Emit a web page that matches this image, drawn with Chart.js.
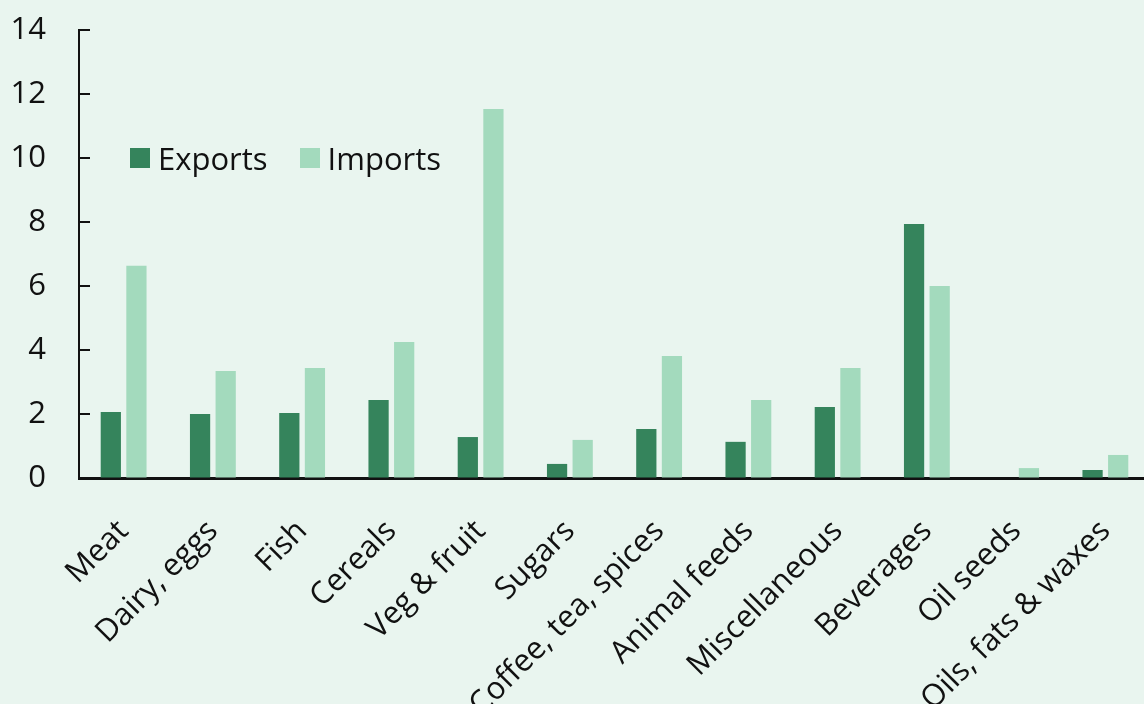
<!DOCTYPE html>
<html>
<head>
<meta charset="utf-8">
<script src="https://cdn.jsdelivr.net/npm/chart.js@4"></script>
<style>
  html, body { margin: 0; padding: 0; background: #e9f5ef; overflow: hidden; }
  #wrap { position: relative; width: 1144px; height: 704px; overflow: hidden; }
  #legend { position: absolute; left: 130px; top: 137px; font-family: 'Open Sans', sans-serif; font-size: 31px; color: #111; display: flex; align-items: center; }
  #legend span.box { display: inline-block; width: 20px; height: 20px; margin-right: 8px; }
  #legend span.item { display: flex; align-items: center; margin-right: 32px; }
</style>
</head>
<body>
<div id="wrap">
  <canvas id="foodChart" width="1150" height="704"></canvas>
  <div id="legend"></div>
</div>
<script>
const categories = ['Meat', 'Dairy, eggs', 'Fish', 'Cereals', 'Veg & fruit', 'Sugars',
  'Coffee, tea, spices', 'Animal feeds', 'Miscellaneous', 'Beverages', 'Oil seeds', 'Oils, fats & waxes'];
const exportsData = [2.06, 2.0, 2.03, 2.44, 1.28, 0.44, 1.53, 1.13, 2.22, 7.94, 0, 0.25];
const importsData = [6.63, 3.34, 3.44, 4.25, 11.53, 1.19, 3.81, 2.44, 3.44, 6.0, 0.31, 0.72];
const yTicks = [0, 2, 4, 6, 8, 10, 12, 14];

const exportColor = '#35845c';
const importColor = '#a3dabd';

// small tick marks drawn inside the plot, next to the y axis
const insideTicks = {
  id: 'insideTicks',
  afterDraw(chart) {
    const ctx = chart.ctx;
    const y = chart.scales.y;
    ctx.save();
    ctx.strokeStyle = '#111';
    ctx.lineWidth = 2;
    y.ticks.forEach((t) => {
      const py = y.getPixelForValue(t.value);
      ctx.beginPath();
      ctx.moveTo(y.right, py);
      ctx.lineTo(y.right + 11, py);
      ctx.stroke();
    });
    ctx.restore();
  },
};

var ctx = document.getElementById('foodChart').getContext('2d');
var foodChart = new Chart(ctx, {
  type: 'bar',
  data: {
    labels: categories,
    datasets: [
      {
        label: 'Exports',
        data: exportsData,
        backgroundColor: exportColor,
        barPercentage: 0.79,
        categoryPercentage: 0.574,
      },
      {
        label: 'Imports',
        data: importsData,
        backgroundColor: importColor,
        barPercentage: 0.79,
        categoryPercentage: 0.574,
      },
    ],
  },
  options: {
    responsive: false,
    animation: false,
    layout: { padding: { top: 30, right: 0, left: 0, bottom: 0 } },
    plugins: {
      legend: { display: false },
      tooltip: { enabled: false },
    },
    scales: {
      x: {
        grid: { display: false },
        border: { display: true, color: '#111', width: 3 },
        ticks: {
          color: '#111',
          font: { family: 'Open Sans', size: 31 },
          maxRotation: 45,
          minRotation: 45,
          autoSkip: false,
          padding: 27,
        },
        afterFit(scale) {
          scale.height = 226;
          scale.paddingLeft = 0;
          scale.paddingRight = 0;
        },
      },
      y: {
        min: 0,
        max: 14,
        afterBuildTicks(scale) { scale.ticks = yTicks.map((v) => ({ value: v })); },
        grid: { display: true, drawOnChartArea: false, drawTicks: false },
        border: { display: true, color: '#111', width: 2 },
        ticks: {
          color: '#111',
          font: { family: 'Open Sans', size: 31 },
          padding: 33,
        },
        afterFit(scale) {
          scale.width = 79;
          scale.paddingTop = 0;
          scale.paddingBottom = 0;
        },
      },
    },
  },
  plugins: [insideTicks],
});

// legend as html, placed inside the plot like the original
const legendEl = document.getElementById('legend');
foodChart.data.datasets.forEach((ds) => {
  const item = document.createElement('span');
  item.className = 'item';
  const box = document.createElement('span');
  box.className = 'box';
  box.style.background = ds.backgroundColor;
  item.appendChild(box);
  item.appendChild(document.createTextNode(ds.label));
  legendEl.appendChild(item);
});
</script>
</body>
</html>
